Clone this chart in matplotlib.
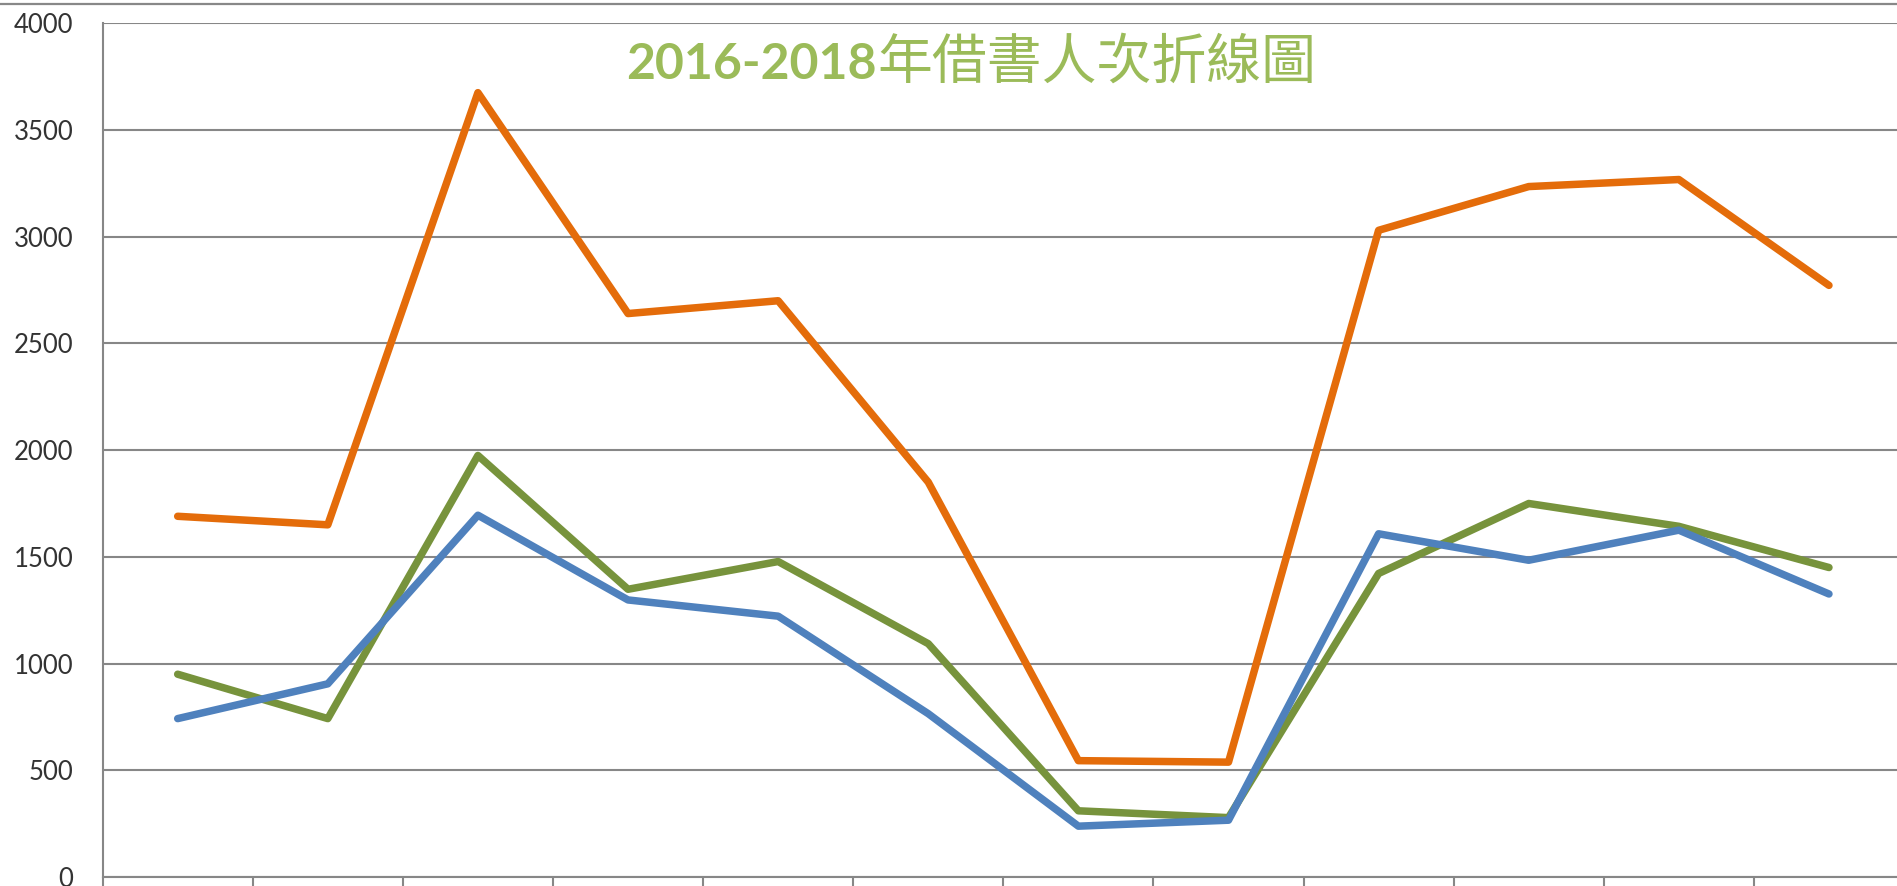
import matplotlib
matplotlib.use("Agg")
import matplotlib.pyplot as plt
from matplotlib.lines import Line2D

# 借書人次 (讀自圖片)
months = list(range(1, 13))
orange_vals = [1690, 1650, 3675, 2640, 2700, 1850, 545, 538, 3030, 3235, 3268, 2772]
blue_vals = [742, 905, 1695, 1298, 1222, 765, 238, 266, 1608, 1484, 1625, 1326]
green_vals = [950, 742, 1975, 1348, 1478, 1093, 310, 278, 1422, 1750, 1643, 1450]
y_ticks = [0, 500, 1000, 1500, 2000, 2500, 3000, 3500, 4000]

title_num = "2016-2018"
title_zh = "年借書人次折線圖"

grid_col = "#878787"

fig = plt.figure(figsize=(18.97, 8.86), dpi=100)
ax = fig.add_axes([0.0541, 0.0102, 0.9496, 0.9635])

x = list(range(len(months)))
kw = dict(lw=5.4, solid_capstyle="round", solid_joinstyle="round")
ax.plot(x, orange_vals, color="#E46C0A", zorder=3, **kw)
ax.plot(x, green_vals, color="#77933C", zorder=4, **kw)
ax.plot(x, blue_vals, color="#4F81BD", zorder=5, **kw)

ax.set_xlim(-0.5, len(months) - 0.5)
ax.set_ylim(0, 4000)
ax.set_yticks(y_ticks)
ax.set_yticklabels([str(v) for v in y_ticks], fontsize=18.5, family="Lato", color="#333333")
ax.tick_params(axis="y", length=0, pad=21)

ax.set_xticks([i - 0.5 for i in range(len(months) + 1)])
ax.set_xticklabels([])
ax.tick_params(axis="x", length=12, width=1.5, color=grid_col, direction="out")

ax.yaxis.grid(True, color=grid_col, lw=1.5)
ax.set_axisbelow(True)
for s in ["top", "right"]:
    ax.spines[s].set_visible(False)
for s in ["left", "bottom"]:
    ax.spines[s].set_color(grid_col)
    ax.spines[s].set_linewidth(1.5)

# 頂端灰線
fig.add_artist(Line2D([0, 1], [0.9955, 0.9955], color="#888888", lw=1.6, transform=fig.transFigure))

# 標題
fig.text(0.4623, 0.9108, title_num, ha="right", va="baseline", fontsize=36,
         fontweight="bold", family="Lato", color="#9BBB59")
fig.text(0.4623, 0.9108, title_zh, ha="left", va="baseline", fontsize=39.5,
         family="Noto Sans CJK TC", color="#9BBB59")

fig.savefig("out.png", dpi=100)
